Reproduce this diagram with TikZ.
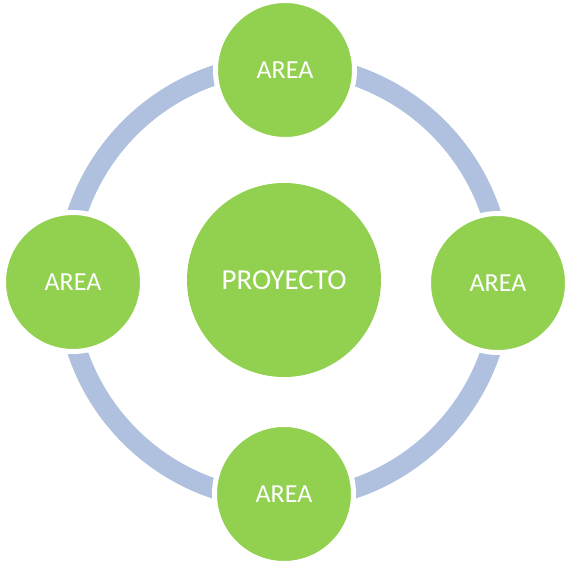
\documentclass[tikz,border=0pt]{standalone}
\usepackage{fontspec}
\setmainfont{Carlito}
\definecolor{ringcol}{HTML}{AFC1DF}
\definecolor{grn}{HTML}{92D050}
\begin{document}
\begin{tikzpicture}[x=1pt,y=-1pt,
  sat/.style={circle, fill=grn, draw=white, line width=5pt, minimum size=139pt, inner sep=0pt, text=white, font=\fontsize{26}{30}\selectfont},
  hub/.style={circle, fill=grn, minimum size=194pt, inner sep=0pt, text=white, font=\fontsize{29}{34}\selectfont},
  ringline/.style={draw=ringcol, line width=20pt}]
\useasboundingbox[fill=white] (0,0) rectangle (565,564);
\coordinate (c) at (284,282);
\draw[ringline] (c) circle[radius=218pt];
\node[hub] (p) at (284,280) {PROYECTO};
\node[sat] (t) at (285,70) {AREA};
\node[sat] (l) at (73,282) {AREA};
\node[sat] (r) at (498,283) {AREA};
\node[sat] (b) at (284,494) {AREA};
\end{tikzpicture}
\end{document}
